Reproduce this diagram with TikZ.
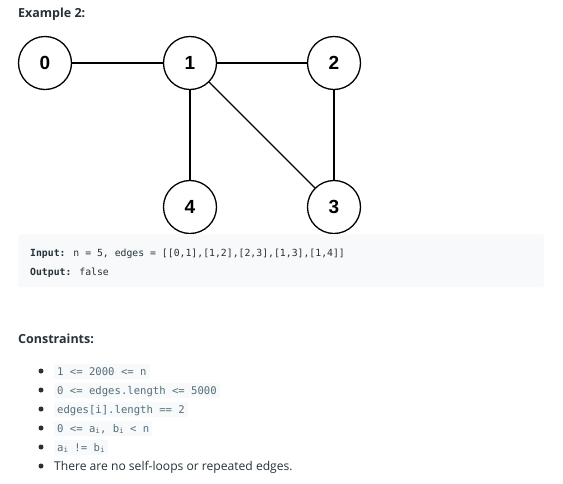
\documentclass[tikz,border=0pt]{standalone}
\usepackage{fontspec}
\setmainfont{Open Sans}
\newfontfamily\codefont{DejaVu Sans Mono}
\newfontfamily\arialfont{Liberation Sans}
\definecolor{txt}{HTML}{263238}
\definecolor{codegray}{HTML}{546E7A}
\definecolor{boxbg}{HTML}{F7F9FA}
\begin{document}
\begin{tikzpicture}[x=1pt,y=-1pt,
  vtx/.style={circle,draw=black,line width=1.3pt,minimum size=53pt,inner sep=0pt,font=\fontsize{19}{19}\selectfont\arialfont\bfseries},
  edge/.style={line width=1.3pt},
  heading/.style={anchor=base west,inner sep=0pt,text=txt,font=\fontsize{12.5}{14}\selectfont\bfseries},
  ioline/.style={anchor=base west,inner sep=0pt,text=txt,font=\fontsize{9.8}{12}\selectfont\codefont},
  code/.style={anchor=base west,inner xsep=3pt,inner ysep=0pt,text height=11pt,text depth=4pt,fill=boxbg,rounded corners=2pt,text=codegray,font=\fontsize{10.6}{12}\selectfont\codefont},
  bul/.style={circle,fill=txt,inner sep=0pt,minimum size=5pt},
  plain/.style={anchor=base west,inner sep=0pt,text=txt,font=\fontsize{12.1}{14}\selectfont}]
\useasboundingbox[fill=white] (0,0) rectangle (563,483);
\node[heading] (title) at (18,17) {Example 2:};
\node[vtx] (n0) at (45,63) {0};
\node[vtx] (n1) at (190,63) {1};
\node[vtx] (n2) at (334,63) {2};
\node[vtx] (n3) at (334,207) {3};
\node[vtx] (n4) at (190,207) {4};
\draw[edge] (n0) -- (n1);
\draw[edge] (n1) -- (n2);
\draw[edge] (n2) -- (n3);
\draw[edge] (n1) -- (n3);
\draw[edge] (n1) -- (n4);
\fill[boxbg,rounded corners=3pt] (18,234) rectangle (544,287);
\node[ioline] (inp) at (30,256) {\textbf{Input:} n = 5, edges = [[0,1],[1,2],[2,3],[1,3],[1,4]]};
\node[ioline] (outp) at (30,275) {\textbf{Output:} false};
\node[heading] (cons) at (18,343) {Constraints:};
\node[bul] (b1) at (41,371) {};
\node[bul] (b2) at (41,390) {};
\node[bul] (b3) at (41,409) {};
\node[bul] (b4) at (41,428) {};
\node[bul] (b5) at (41,447) {};
\node[bul] (b6) at (41,466) {};
\node[code] (c1) at (54,375) {1 <= 2000 <= n};
\node[code] (c2) at (54,394) {0 <= edges.length <= 5000};
\node[code] (c3) at (54,413) {edges[i].length == 2};
\node[code] (c4) at (54,432) {0 <= a\raisebox{-1.5pt}{\fontsize{7.5}{8}\selectfont i}, b\raisebox{-1.5pt}{\fontsize{7.5}{8}\selectfont i} < n};
\node[code] (c5) at (54,451) {a\raisebox{-1.5pt}{\fontsize{7.5}{8}\selectfont i} != b\raisebox{-1.5pt}{\fontsize{7.5}{8}\selectfont i}};
\node[plain] (t6) at (54,470) {There are no self-loops or repeated edges.};
\end{tikzpicture}
\end{document}
